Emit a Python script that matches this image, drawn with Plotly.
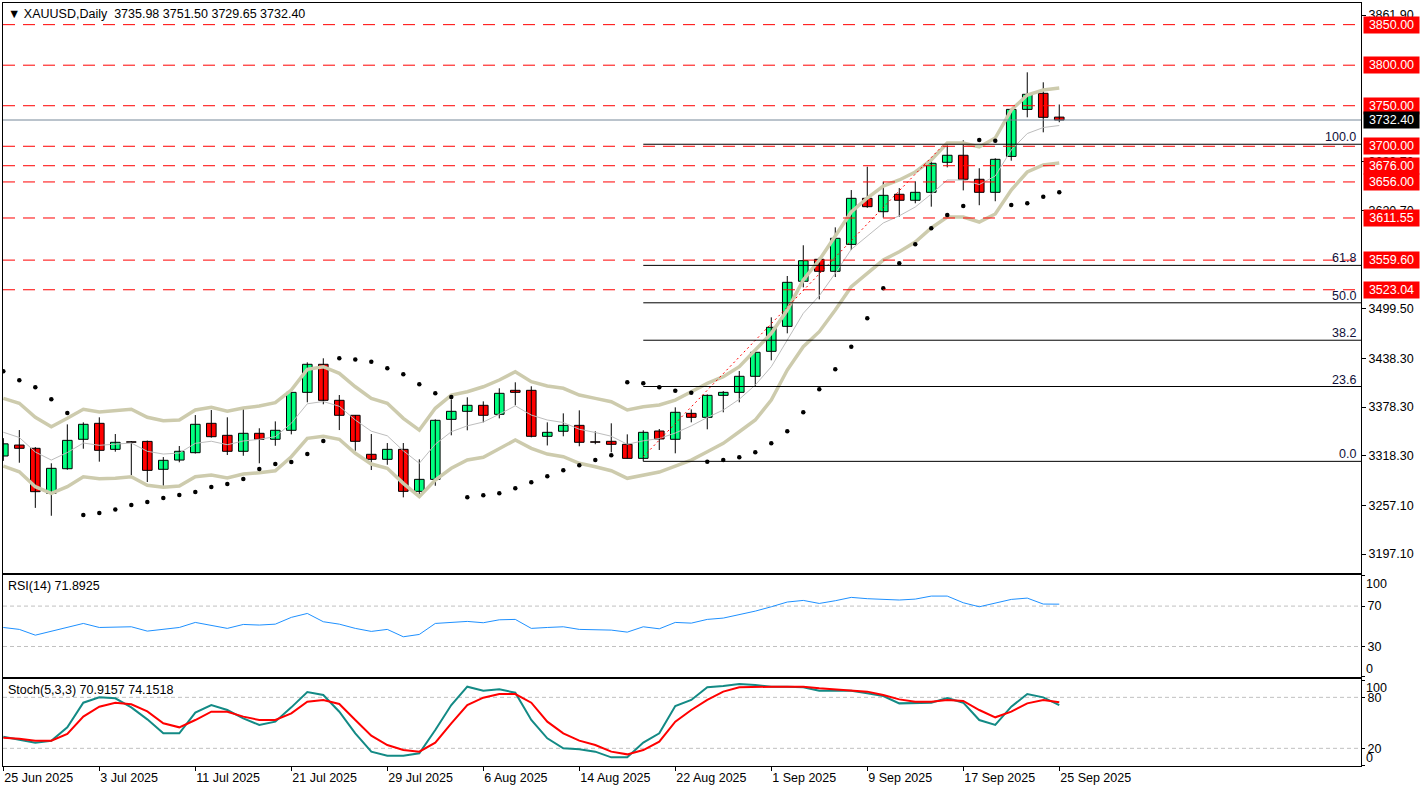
import plotly.graph_objects as go

# ---------------- data ----------------
date_tick_bars = [0, 6, 12, 18, 24, 30, 36, 42, 48, 54, 60, 66]
date_tick_text = ['25 Jun 2025', '3 Jul 2025', '11 Jul 2025', '21 Jul 2025', '29 Jul 2025',
                  '6 Aug 2025', '14 Aug 2025', '22 Aug 2025', '1 Sep 2025', '9 Sep 2025',
                  '17 Sep 2025', '25 Sep 2025']

opens = [3318.0, 3331.5, 3327.5, 3272.0, 3302.3, 3338.6, 3358.3, 3326.2, 3335.5, 3336.0,
         3301.6, 3313.0, 3322.1, 3358.3, 3343.5, 3323.8, 3346.0, 3338.6, 3349.7, 3396.5,
         3431.1, 3386.7, 3368.2, 3320.1, 3313.9, 3326.2, 3274.4, 3289.2, 3363.2, 3373.1,
         3380.5, 3369.4, 3399.0, 3399.0, 3342.3, 3348.5, 3355.8, 3335.5, 3336.1, 3332.4,
         3315.1, 3348.8, 3338.6, 3370.6, 3365.7, 3392.8, 3396.5, 3416.3, 3447.1, 3477.9,
         3533.5, 3560.6, 3545.8, 3579.0, 3635.8, 3619.3, 3640.8, 3633.4, 3643.2, 3680.2,
         3688.9, 3659.3, 3643.2, 3687.5, 3745.5, 3765.3, 3735.98]
highs = [3340.0, 3350.0, 3329.0, 3309.0, 3357.0, 3359.5, 3365.7, 3345.1, 3336.5, 3337.0,
         3316.7, 3330.3, 3368.5, 3374.7, 3365.7, 3376.3, 3352.2, 3360.7, 3397.0, 3433.5,
         3438.5, 3393.2, 3368.5, 3345.1, 3334.0, 3334.0, 3313.9, 3363.2, 3387.9, 3390.4,
         3385.4, 3401.5, 3408.9, 3404.0, 3359.5, 3370.6, 3374.3, 3348.5, 3358.3, 3344.7,
         3349.7, 3351.3, 3378.0, 3375.5, 3394.0, 3398.1, 3422.8, 3447.0, 3489.0, 3540.0,
         3577.9, 3563.0, 3600.0, 3646.0, 3674.8, 3656.3, 3648.5, 3656.8, 3683.9, 3701.2,
         3707.4, 3672.9, 3685.2, 3746.0, 3791.2, 3778.9, 3751.50]
lows = [3312.0, 3309.7, 3254.0, 3244.3, 3301.0, 3327.0, 3311.0, 3323.3, 3294.5, 3285.9,
        3281.3, 3310.2, 3321.0, 3340.6, 3319.2, 3318.3, 3309.0, 3330.6, 3344.7, 3384.2,
        3381.8, 3350.0, 3324.5, 3300.7, 3307.2, 3267.0, 3271.1, 3281.3, 3343.5, 3349.7,
        3359.5, 3364.4, 3380.5, 3341.0, 3331.0, 3342.3, 3330.0, 3332.5, 3322.6, 3315.0,
        3311.4, 3325.4, 3321.3, 3359.5, 3350.9, 3371.9, 3384.2, 3404.3, 3436.0, 3469.3,
        3526.0, 3511.2, 3538.7, 3572.0, 3624.0, 3612.0, 3613.1, 3629.7, 3625.5, 3674.0,
        3645.6, 3627.3, 3632.2, 3682.2, 3735.7, 3717.2, 3729.65]
closes = [3333.0, 3327.5, 3274.0, 3302.8, 3337.3, 3357.1, 3325.0, 3334.9, 3335.0, 3300.3,
          3312.7, 3323.8, 3357.1, 3341.8, 3323.8, 3346.0, 3338.6, 3349.7, 3396.5, 3431.1,
          3386.7, 3368.2, 3336.1, 3313.9, 3326.2, 3274.4, 3289.2, 3362.0, 3373.1, 3380.5,
          3368.2, 3395.3, 3396.5, 3342.3, 3347.2, 3355.8, 3334.9, 3335.0, 3332.4, 3315.1,
          3347.2, 3339.0, 3371.9, 3365.7, 3392.8, 3396.5, 3416.3, 3445.9, 3476.7, 3532.2,
          3558.9, 3545.8, 3586.5, 3635.8, 3625.5, 3639.5, 3633.4, 3643.2, 3679.0, 3688.9,
          3659.3, 3643.2, 3683.9, 3745.5, 3764.1, 3735.7, 3732.40]

bb_upper = [3389.1, 3383.0, 3365.7, 3354.1, 3364.5, 3375.6, 3372.2, 3373.8, 3375.6, 3365.7,
            3361.5, 3362.4, 3374.7, 3378.0, 3373.1, 3377.2, 3379.6, 3383.7, 3399.4, 3424.9,
            3428.1, 3420.0, 3403.4, 3389.1, 3383.0, 3364.5, 3350.0, 3376.8, 3393.2, 3397.3,
            3403.4, 3411.7, 3421.9, 3409.6, 3404.3, 3401.5, 3393.2, 3389.1, 3384.9, 3374.7,
            3378.8, 3380.9, 3387.0, 3397.3, 3407.6, 3415.8, 3428.1, 3448.7, 3469.3, 3498.1,
            3535.1, 3559.7, 3588.5, 3618.9, 3636.2, 3651.0, 3658.4, 3668.3, 3683.1, 3704.0,
            3704.0, 3699.1, 3710.2, 3744.7, 3763.2, 3769.4, 3771.9]
bb_middle = [3347.3, 3340.8, 3322.9, 3313.0, 3322.3, 3334.0, 3331.2, 3332.2, 3334.0, 3323.8,
             3320.4, 3321.7, 3333.6, 3336.2, 3331.9, 3336.5, 3338.6, 3341.8, 3358.3, 3382.4,
             3385.2, 3379.3, 3362.4, 3348.6, 3342.9, 3324.4, 3309.0, 3332.5, 3347.9, 3355.2,
             3359.9, 3369.5, 3379.9, 3368.5, 3362.4, 3359.3, 3351.0, 3347.0, 3342.4, 3332.5,
             3336.7, 3339.6, 3346.3, 3355.2, 3365.5, 3374.7, 3388.0, 3405.5, 3428.1, 3461.0,
             3494.0, 3515.6, 3543.3, 3572.9, 3589.7, 3605.4, 3614.2, 3625.1, 3641.1, 3658.4,
             3658.4, 3652.8, 3663.3, 3695.4, 3715.7, 3723.1, 3725.6]
bb_lower = [3305.6, 3298.6, 3280.1, 3272.0, 3280.1, 3292.4, 3290.0, 3290.5, 3292.4, 3281.8,
            3279.4, 3281.0, 3292.4, 3294.5, 3290.8, 3295.8, 3297.4, 3299.8, 3317.1, 3339.8,
            3342.3, 3338.6, 3321.3, 3308.1, 3302.8, 3284.3, 3267.8, 3288.4, 3302.8, 3313.0,
            3316.4, 3327.5, 3337.7, 3327.5, 3320.4, 3317.1, 3309.0, 3304.8, 3299.8, 3290.5,
            3294.5, 3298.2, 3305.6, 3313.0, 3323.3, 3333.6, 3347.9, 3362.4, 3387.0, 3424.0,
            3452.8, 3471.3, 3498.1, 3526.8, 3543.3, 3559.7, 3570.0, 3581.9, 3599.2, 3612.8,
            3612.8, 3606.6, 3616.5, 3646.1, 3668.3, 3676.9, 3679.4]

sar = [3422.4, 3411.3, 3402.7, 3387.9, 3371.0, 3245.2, 3247.7, 3252.0, 3257.5, 3261.2,
       3266.2, 3269.9, 3273.6, 3279.7, 3283.4, 3289.6, 3301.9, 3308.1, 3310.6, 3320.4,
       3336.5, 3438.5, 3437.0, 3434.3, 3426.1, 3418.7, 3406.4, 3395.3, 3390.7, 3267.0,
       3269.5, 3272.0, 3278.1, 3285.5, 3292.9, 3300.3, 3306.5, 3313.0, 3318.8, 3408.9,
       3407.6, 3402.7, 3398.5, 3396.0, 3310.9, 3313.0, 3316.4, 3322.5, 3333.6, 3348.4,
       3371.9, 3400.2, 3424.9, 3452.8, 3487.8, 3524.8, 3555.6, 3579.1, 3598.8, 3615.2,
       3626.3, 3707.7, 3706.9, 3627.6, 3629.7, 3637.8, 3643.2]

rsi = [48.8, 46.9, 41.2, 45.2, 49.5, 52.8, 48.8, 49.5, 49.5, 45.2,
       46.9, 48.8, 53.8, 50.5, 47.9, 51.8, 51.2, 52.1, 58.8, 62.7,
       54.5, 52.1, 47.9, 44.9, 46.9, 39.6, 41.9, 52.8, 54.1, 54.8,
       53.5, 56.4, 56.8, 47.9, 48.8, 49.5, 46.9, 46.9, 46.2, 44.2,
       49.5, 47.5, 53.8, 53.1, 56.8, 58.1, 61.4, 65.0, 69.3, 74.0,
       75.6, 72.6, 75.3, 78.6, 77.3, 76.9, 76.0, 76.9, 79.9, 79.9,
       73.3, 69.3, 73.3, 76.6, 77.9, 72.0, 71.8925]

stoch_k = [33.7, 29.8, 26.7, 29.0, 44.7, 73.7, 80.0, 78.8, 68.2, 54.1,
           37.6, 37.6, 62.0, 71.0, 65.1, 55.3, 47.5, 51.4, 68.2, 86.3,
           82.7, 63.1, 37.6, 16.1, 11.4, 11.4, 14.1, 41.6, 71.0, 92.5,
           87.8, 89.4, 85.5, 53.3, 31.8, 20.0, 18.8, 16.1, 9.4, 9.4,
           26.7, 37.6, 69.8, 76.9, 91.8, 93.3, 95.7, 94.5, 92.5, 92.5,
           91.8, 87.8, 87.8, 87.8, 84.7, 81.6, 72.9, 72.9, 73.7, 79.2,
           73.7, 53.3, 47.5, 69.0, 83.9, 80.0, 70.9157]
stoch_d = [32.5, 31.4, 29.0, 29.0, 36.9, 57.3, 69.0, 73.7, 71.8, 63.5,
           49.4, 44.7, 53.3, 63.1, 63.1, 57.3, 53.3, 53.3, 61.2, 74.9,
           76.9, 72.2, 53.3, 34.9, 23.9, 18.0, 16.1, 26.7, 49.4, 71.0,
           79.6, 83.9, 83.9, 73.7, 51.4, 37.6, 29.0, 23.9, 16.1, 12.9,
           18.0, 27.8, 51.4, 65.1, 76.9, 86.7, 91.8, 92.5, 92.5, 92.5,
           92.5, 90.6, 89.4, 88.6, 86.7, 82.7, 77.6, 74.9, 74.9, 76.9,
           75.7, 65.1, 56.5, 63.1, 72.9, 76.9, 74.1518]

red_levels = [3850.00, 3800.00, 3750.00, 3700.00, 3676.00, 3656.00, 3611.55, 3559.60, 3523.04]
last_price = 3732.40

fib_low = 3311.4
fib_high = 3702.5
fib_start_bar = 40
fib_ratios = [0.0, 23.6, 38.2, 50.0, 61.8, 100.0]

trend_bars = [40, 58.75]
trend_prices = [3317.1, 3701.5]

price_ticks = [3861.90, 3680.70, 3620.70, 3499.50, 3438.30, 3378.30, 3318.30, 3257.10, 3197.10]

title_text = 'XAUUSD,Daily\u00a0 3735.98 3751.50 3729.65 3732.40'
rsi_title = 'RSI(14) 71.8925'
stoch_title = 'Stoch(5,3,3) 70.9157 74.1518'

# ---------------- figure ----------------
FONT = 'Liberation Sans'
FS = 12.5
n = len(opens)
xs = list(range(n))
X_MAX = 84.86

fig = go.Figure()

# wicks
wx, wy = [], []
for i in xs:
    wx += [i, i, None]
    wy += [lows[i], highs[i], None]
fig.add_trace(go.Scatter(x=wx, y=wy, mode='lines', line=dict(color='black', width=1),
                         hoverinfo='skip', xaxis='x', yaxis='y'))

# bodies
base = [min(o, c) for o, c in zip(opens, closes)]
hgt = [max(abs(c - o), 0.5) for o, c in zip(opens, closes)]
cols = ['#00FF7F' if c > o else '#FF0000' for o, c in zip(opens, closes)]
fig.add_trace(go.Bar(x=xs, y=hgt, base=base, width=0.6,
                     marker=dict(color=cols, line=dict(color='black', width=1)),
                     hoverinfo='skip', xaxis='x', yaxis='y'))

# Bollinger bands
band_col = '#CDCBAD'
fig.add_trace(go.Scatter(x=xs, y=bb_upper, mode='lines', line=dict(color=band_col, width=3.5),
                         hoverinfo='skip', xaxis='x', yaxis='y'))
fig.add_trace(go.Scatter(x=xs, y=bb_lower, mode='lines', line=dict(color=band_col, width=3.5),
                         hoverinfo='skip', xaxis='x', yaxis='y'))
fig.add_trace(go.Scatter(x=xs, y=bb_middle, mode='lines', line=dict(color='#BDBDBD', width=1),
                         hoverinfo='skip', xaxis='x', yaxis='y'))

# trend line (red dotted)
fig.add_trace(go.Scatter(x=trend_bars, y=trend_prices, mode='lines',
                         line=dict(color='#FF0000', width=1, dash='2px,3px'),
                         hoverinfo='skip', xaxis='x', yaxis='y'))

# Parabolic SAR
fig.add_trace(go.Scatter(x=xs, y=sar, mode='markers',
                         marker=dict(color='black', size=4.5, symbol='circle'),
                         hoverinfo='skip', xaxis='x', yaxis='y'))

# RSI
fig.add_trace(go.Scatter(x=xs, y=rsi, mode='lines', line=dict(color='#1E90FF', width=1),
                         hoverinfo='skip', xaxis='x2', yaxis='y2'))
# Stochastic
fig.add_trace(go.Scatter(x=xs, y=stoch_k, mode='lines', line=dict(color='#138A85', width=2),
                         hoverinfo='skip', xaxis='x3', yaxis='y3'))
fig.add_trace(go.Scatter(x=xs, y=stoch_d, mode='lines', line=dict(color='#FF0000', width=2),
                         hoverinfo='skip', xaxis='x3', yaxis='y3'))

shapes = []
annotations = []

# red dashed levels
for lv in red_levels:
    shapes.append(dict(type='line', xref='x domain', x0=0, x1=1, yref='y', y0=lv, y1=lv,
                       line=dict(color='#FF0000', width=1, dash='12px,8px'), layer='above'))
    annotations.append(dict(xref='paper', x=1, xanchor='left', xshift=2, yref='y', y=lv,
                            yanchor='middle', text='%.2f' % lv, showarrow=False,
                            bgcolor='#FF0000', font=dict(color='white', size=FS, family=FONT),
                            width=53, height=14, borderpad=1, align='center'))

# current price
shapes.append(dict(type='line', xref='x domain', x0=0, x1=1, yref='y', y0=last_price, y1=last_price,
                   line=dict(color='#778899', width=1), layer='above'))
annotations.append(dict(xref='paper', x=1, xanchor='left', xshift=2, yref='y', y=last_price,
                        yanchor='middle', text='%.2f' % last_price, showarrow=False,
                        bgcolor='black', font=dict(color='white', size=FS, family=FONT),
                        width=53, height=14, borderpad=1, align='center'))

# fibonacci
for r in fib_ratios:
    p = fib_low + (fib_high - fib_low) * r / 100.0
    shapes.append(dict(type='line', xref='x', x0=fib_start_bar, x1=X_MAX, yref='y', y0=p, y1=p,
                       line=dict(color='black', width=1), layer='above'))
    annotations.append(dict(xref='x domain', x=1, xanchor='right', xshift=-3, yref='y', y=p,
                            yanchor='bottom', yshift=-2, text='%.1f' % r, showarrow=False,
                            font=dict(color='#10103A', size=FS, family=FONT)))

# RSI / Stoch level lines
for lv in [70, 30]:
    shapes.append(dict(type='line', xref='x domain', x0=0, x1=1, yref='y2', y0=lv, y1=lv,
                       line=dict(color='#C0C0C0', width=1, dash='4px,3px'), layer='below'))
for lv in [80, 20]:
    shapes.append(dict(type='line', xref='x domain', x0=0, x1=1, yref='y3', y0=lv, y1=lv,
                       line=dict(color='#C0C0C0', width=1, dash='4px,3px'), layer='below'))

# titles
annotations.append(dict(xref='x domain', x=0, xanchor='left', xshift=3, yref='y domain', y=1,
                        yanchor='top', yshift=-2, text='\u25BC ' + title_text, showarrow=False,
                        font=dict(color='black', size=FS, family=FONT)))
annotations.append(dict(xref='x domain', x=0, xanchor='left', xshift=3, yref='y2 domain', y=1,
                        yanchor='top', yshift=-2, text=rsi_title, showarrow=False,
                        font=dict(color='black', size=FS, family=FONT)))
annotations.append(dict(xref='x domain', x=0, xanchor='left', xshift=3, yref='y3 domain', y=1,
                        yanchor='top', yshift=-2, text=stoch_title, showarrow=False,
                        font=dict(color='black', size=FS, family=FONT)))

# extra right-side labels of indicator panels
for txt, yv, yr in [('100', 92.1, 'y2'), ('0', 7.4, 'y2'), ('100', 91.0, 'y3'), ('0', 8.6, 'y3')]:
    annotations.append(dict(xref='paper', x=1, xanchor='left', xshift=3, yref=yr, y=yv,
                            yanchor='middle', text=txt, showarrow=False,
                            font=dict(color='black', size=FS, family=FONT)))

axis_common = dict(showline=True, mirror=True, linecolor='black', linewidth=1,
                   showgrid=False, zeroline=False)

fig.update_layout(
    width=1424, height=790,
    margin=dict(l=3, r=63, t=3, b=24),
    paper_bgcolor='white', plot_bgcolor='white',
    showlegend=False, barmode='overlay',
    font=dict(family=FONT, size=FS, color='black'),
    xaxis=dict(domain=[0, 1], anchor='y', range=[-0.02, X_MAX], showticklabels=False,
               ticks='', **axis_common),
    xaxis2=dict(domain=[0, 1], anchor='y2', matches='x', range=[-0.02, X_MAX],
                showticklabels=False, ticks='', **axis_common),
    xaxis3=dict(domain=[0, 1], anchor='y3', matches='x', range=[-0.02, X_MAX],
                tickvals=date_tick_bars, ticktext=date_tick_text, ticks='outside', ticklen=4,
                tickcolor='black', ticklabelposition='outside right',
                tickfont=dict(size=FS, family=FONT, color='black'), **axis_common),
    yaxis=dict(domain=[0.25295, 1], anchor='x', side='right', range=[3173.7, 3876.7],
               tickvals=price_ticks, ticktext=['%.2f' % v for v in price_ticks],
               ticks='outside', ticklen=4, tickcolor='black',
               tickfont=dict(size=FS, family=FONT, color='black'), **axis_common),
    yaxis2=dict(domain=[0.1163, 0.2497], anchor='x2', side='right', range=[-0.5, 100.3],
                tickvals=[100, 70, 30, 0], ticktext=['', '70', '30', ''],
                ticks='outside', ticklen=3, tickcolor='black',
                tickfont=dict(size=FS, family=FONT, color='black'), **axis_common),
    yaxis3=dict(domain=[0, 0.1136], anchor='x3', side='right', range=[-0.8, 101.2],
                tickvals=[100, 80, 20, 0], ticktext=['', '80', '20', ''],
                ticks='outside', ticklen=3, tickcolor='black',
                tickfont=dict(size=FS, family=FONT, color='black'), **axis_common),
    shapes=shapes,
    annotations=annotations,
)

fig.write_html('out.html',
               config={'displayModeBar': False},
               post_script="document.body.style.margin='0px';"
                           "document.body.style.padding='0px';"
                           "document.body.style.overflow='hidden';")
